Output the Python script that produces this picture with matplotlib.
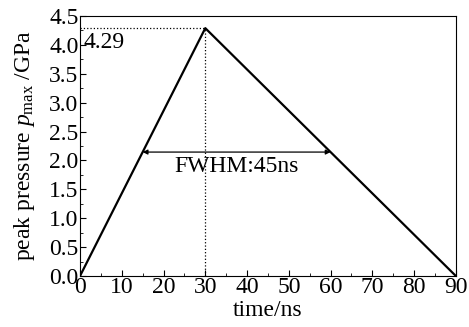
import matplotlib
matplotlib.use('Agg')
import matplotlib.pyplot as plt
from matplotlib.ticker import MultipleLocator

plt.rcParams['font.family'] = 'Liberation Serif'
plt.rcParams['mathtext.fontset'] = 'custom'
plt.rcParams['mathtext.rm'] = 'Liberation Serif'
plt.rcParams['mathtext.it'] = 'Liberation Serif:italic'

# pulse shape (time in ns, pressure in GPa)
timeNs = [0, 30, 90]
pressure = [0, 4.29, 0]
peakTime = 30
peakValue = 4.29
fwhmStart = 15
fwhmEnd = 60

fig = plt.figure(figsize=(4.69, 3.27), dpi=100)
ax = fig.add_axes([0.1706, 0.156, 0.8014, 0.795])

ax.plot(timeNs, pressure, color='black', linewidth=1.6)

# dotted guides to the peak
ax.plot([0, peakTime], [peakValue, peakValue], color='black', linestyle=':', linewidth=0.9)
ax.plot([peakTime, peakTime], [0, peakValue], color='black', linestyle=':', linewidth=0.9)
ax.text(0.8, peakValue - 0.06, '4.29', fontsize=17, va='top', ha='left')

# FWHM arrow
half = peakValue / 2
ax.annotate('', xy=(fwhmStart, half), xytext=(fwhmEnd, half),
            arrowprops=dict(arrowstyle='<|-|>', color='black', lw=0.9,
                            mutation_scale=7, shrinkA=0, shrinkB=0))
ax.text((fwhmStart + fwhmEnd) / 2, half - 0.06, 'FWHM:45ns', fontsize=17,
        ha='center', va='top')

ax.set_xlim(0, 90)
ax.set_ylim(0, 4.5)
ax.xaxis.set_major_locator(MultipleLocator(10))
ax.xaxis.set_minor_locator(MultipleLocator(5))
ax.yaxis.set_major_locator(MultipleLocator(0.5))
ax.yaxis.set_minor_locator(MultipleLocator(0.25))
ax.yaxis.set_major_formatter(plt.FormatStrFormatter('%.1f'))
ax.tick_params(which='both', direction='in', labelsize=17, top=False, right=False)
ax.tick_params(which='major', length=4, pad=1)
ax.tick_params(which='minor', length=2)

ax.set_xlabel('time/ns', fontsize=17, labelpad=1)
ax.set_ylabel('peak pressure $p_{\\mathrm{max}}$ /GPa', fontsize=17, labelpad=9)

fig.savefig('out.png', dpi=100)
